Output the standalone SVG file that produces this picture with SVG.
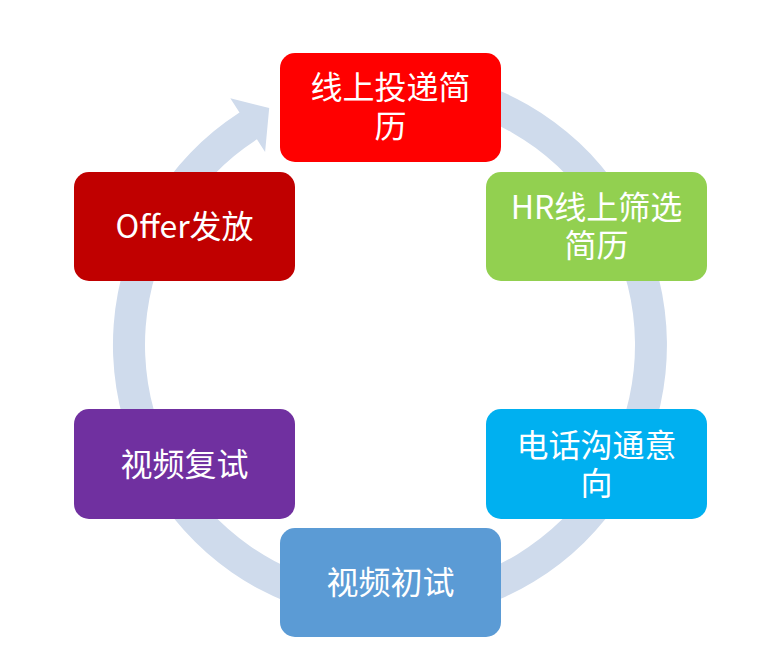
<svg xmlns="http://www.w3.org/2000/svg" width="776" height="663" viewBox="0 0 776 663">
<style>
.box{stroke:none}
.t{font-family:"Noto Sans CJK SC","Noto Sans",sans-serif;font-size:32px;fill:#FFFFFF;text-anchor:middle}
</style>
<rect width="776" height="663" fill="#FFFFFF"/>
<g id="connectors">
<path d="M438.1,72.2 A277,277 0 1 1 239.5,112.4 L230.3,98.2 L269.2,108.0 L265.1,151.9 L256.9,139.3 A245,245 0 1 0 432.5,103.7 Z" fill="#CFDBEC"/>
</g>
<g id="n1"><rect class="box" x="280" y="53" width="221" height="109" rx="15" fill="#FF0000"/><text class="t" x="390.5" y="99">线上投递简</text><text class="t" x="390.5" y="138">历</text></g>
<g id="n2"><rect class="box" x="486" y="172" width="221" height="109" rx="15" fill="#92D050"/><text class="t" x="596.5" y="219">HR线上筛选</text><text class="t" x="596.5" y="257">简历</text></g>
<g id="n3"><rect class="box" x="486" y="409" width="221" height="110" rx="15" fill="#00B0F0"/><text class="t" x="596.5" y="457">电话沟通意</text><text class="t" x="596.5" y="495">向</text></g>
<g id="n4"><rect class="box" x="280" y="528" width="221" height="109" rx="15" fill="#5B9BD5"/><text class="t" x="390.5" y="594">视频初试</text></g>
<g id="n5"><rect class="box" x="74" y="409" width="221" height="110" rx="15" fill="#7030A0"/><text class="t" x="184.5" y="476">视频复试</text></g>
<g id="n6"><rect class="box" x="74" y="172" width="221" height="109" rx="15" fill="#C00000"/><text class="t" x="184.5" y="238">Offer发放</text></g>
</svg>
